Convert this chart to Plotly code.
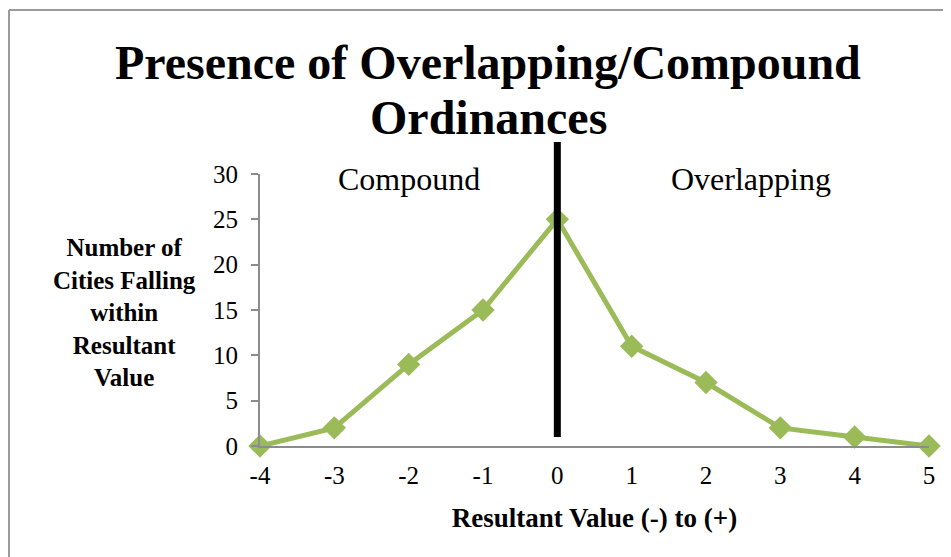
import plotly.graph_objects as go

# data
resultant_values = [-4, -3, -2, -1, 0, 1, 2, 3, 4, 5]
resultant_labels = ["-4", "-3", "-2", "-1", "0", "1", "2", "3", "4", "5"]
city_counts = [0, 2, 9, 15, 25, 11, 7, 2, 1, 0]
y_ticks = [0, 5, 10, 15, 20, 25, 30]
divider_value = 0
side_labels = ["Compound", "Overlapping"]
side_label_x = [-2, 2.6]

# page body has an 8px margin, so the figure is laid out 8px in from the window
OFF = 8
W, H = 951 - OFF, 557 - OFF
M_L, M_R, M_T, M_B = 252, 22, 166, 111
plot_w = W - M_L - M_R
plot_h = H - M_T - M_B


def px(x):
    # window pixel -> paper x
    return (x - OFF - M_L) / plot_w


def py(y):
    # window pixel -> paper y
    return (H - M_B - (y - OFF)) / plot_h


serif = "Liberation Serif, Times New Roman, serif"
green = "#9BBB59"
axis_gray = "#8C8C8C"

fig = go.Figure()

fig.add_trace(go.Scatter(
    x=resultant_values,
    y=city_counts,
    mode="lines+markers",
    line=dict(color=green, width=5),
    marker=dict(symbol="diamond", size=18, color=green),
    cliponaxis=False,
    showlegend=False,
    hovertemplate="%{x}: %{y}<extra></extra>"
))

# thick divider at zero, runs past the top of the plot area
fig.add_shape(
    type="line", xref="x", yref="paper",
    x0=divider_value, x1=divider_value,
    y0=py(437), y1=py(142),
    line=dict(color="black", width=7)
)

# outer frame (top and left edges visible)
fig.add_shape(type="line", xref="paper", yref="paper",
              x0=px(9), x1=px(960), y0=py(10), y1=py(10),
              line=dict(color="#9A9A9A", width=2))
fig.add_shape(type="line", xref="paper", yref="paper",
              x0=px(9), x1=px(9), y0=py(10), y1=py(570),
              line=dict(color="#9A9A9A", width=2))

for label, lx in zip(side_labels, side_label_x):
    fig.add_annotation(
        x=lx, y=30, xref="x", yref="y",
        text=label, showarrow=False,
        yanchor="middle", yshift=-5,
        font=dict(family=serif, size=32, color="black")
    )

# title, two lines placed separately for tighter line spacing
title_lines = ["Presence of Overlapping/Compound", "Ordinances"]
for line, ty in zip(title_lines, [63, 117]):
    fig.add_annotation(
        x=px(488), y=py(ty), xref="paper", yref="paper",
        xanchor="center", yanchor="middle",
        text="<b>" + line + "</b>", showarrow=False,
        font=dict(family=serif, size=48, color="black")
    )

fig.add_annotation(
    x=px(124), y=py(312),
    xref="paper", yref="paper",
    xanchor="center", yanchor="middle",
    text="<b>Number of<br>Cities Falling<br>within<br>Resultant<br>Value</b>",
    showarrow=False, align="center",
    font=dict(family=serif, size=25, color="black")
)

fig.update_layout(
    width=W, height=H,
    margin=dict(l=M_L, r=M_R, t=M_T, b=M_B),
    plot_bgcolor="white",
    paper_bgcolor="white",
    xaxis=dict(
        range=[-4, 5],
        tickmode="array",
        tickvals=resultant_values,
        ticktext=resultant_labels,
        showgrid=False,
        zeroline=False,
        showline=True, linecolor=axis_gray, linewidth=2,
        ticks="",
        ticklabelstandoff=6,
        tickfont=dict(family=serif, size=25, color="black"),
        title=dict(
            text="<b>Resultant Value (-) to (+)</b>",
            font=dict(family=serif, size=27, color="black"),
            standoff=20
        )
    ),
    yaxis=dict(
        range=[0, 30],
        tickmode="array",
        tickvals=y_ticks,
        showgrid=False,
        zeroline=False,
        showline=True, linecolor=axis_gray, linewidth=2,
        ticks="outside", ticklen=7, tickcolor=axis_gray, tickwidth=2,
        ticklabelstandoff=8,
        tickfont=dict(family=serif, size=25, color="black")
    )
)

fig.write_html("out.html")
